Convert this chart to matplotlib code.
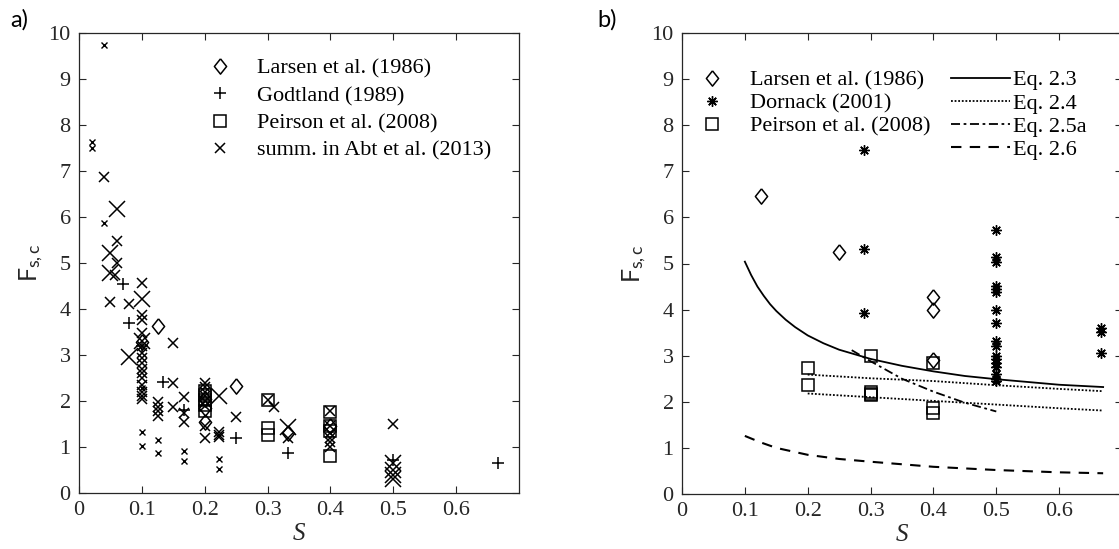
import numpy as np
import matplotlib
matplotlib.use("Agg")
import matplotlib.pyplot as plt

# ---- data (a) ----
larsen_a_s = [0.1, 0.125, 0.2, 0.2, 0.2, 0.25, 0.333, 0.4]
larsen_a_f = [3.28, 3.62, 2.05, 1.85, 1.55, 2.32, 1.3, 1.45]
godt_s = [0.07, 0.08, 0.1, 0.133, 0.167, 0.25, 0.333, 0.5, 0.667]
godt_f = [4.55, 3.7, 3.2, 2.42, 1.8, 1.2, 0.87, 0.72, 0.65]
peir_a_s = [0.2, 0.2, 0.2, 0.2, 0.2, 0.3, 0.3, 0.3, 0.4, 0.4, 0.4, 0.4]
peir_a_f = [2.22, 2.12, 2.02, 1.92, 1.78, 2.02, 1.41, 1.26, 1.77, 1.45, 1.35, 0.8]
abt_small_s = [0.02, 0.02, 0.04, 0.04, 0.1, 0.1, 0.1, 0.125, 0.125, 0.167, 0.167, 0.222, 0.222]
abt_small_f = [7.62, 7.5, 9.75, 5.87, 2.28, 1.32, 1.03, 1.15, 0.87, 0.92, 0.7, 0.73, 0.52]
abt_med_s = [0.04, 0.06, 0.06, 0.057, 0.05, 0.08, 0.1, 0.1, 0.1, 0.1, 0.1, 0.1, 0.1,
             0.1, 0.1, 0.1, 0.1, 0.1, 0.1, 0.1, 0.1, 0.125, 0.125, 0.125, 0.125,
             0.15, 0.15, 0.15, 0.167, 0.167, 0.167, 0.2, 0.2, 0.2, 0.2, 0.2, 0.2,
             0.2, 0.2, 0.222, 0.222, 0.222, 0.25, 0.3, 0.31, 0.333, 0.4, 0.4, 0.4,
             0.4, 0.4, 0.4, 0.5]
abt_med_f = [6.87, 5.47, 5.0, 4.74, 4.15, 4.1, 4.56, 3.87, 3.76, 3.47, 3.2, 3.05,
             2.93, 2.82, 2.7, 2.6, 2.5, 2.35, 2.2, 2.1, 2.05, 1.98, 1.88, 1.78, 1.67,
             3.26, 2.39, 1.88, 2.09, 1.75, 1.55, 2.4, 2.3, 2.2, 2.1, 2.0, 1.9, 1.45,
             1.2, 1.32, 1.27, 1.22, 1.66, 2.02, 1.86, 1.2, 1.78, 1.45, 1.3, 1.2,
             1.1, 1.0, 1.5]
abt_big_s = [0.06, 0.05, 0.05, 0.1, 0.1, 0.08, 0.222, 0.333, 0.5, 0.5, 0.5, 0.5]
abt_big_f = [6.17, 5.22, 4.78, 4.21, 3.3, 2.95, 2.11, 1.44, 0.65, 0.5, 0.4, 0.3]

# ---- data (b) ----
larsen_b_s = [0.125, 0.25, 0.4, 0.4, 0.4]
larsen_b_f = [6.47, 5.26, 4.27, 3.99, 2.9]
dorn_s = [0.29, 0.29, 0.29] + [0.5] * 17 + [0.667, 0.667, 0.667]
dorn_f = [7.46, 5.32, 3.92,
          5.72, 5.15, 5.03, 4.52, 4.45, 4.38, 4.0, 3.7, 3.32, 3.2, 3.0, 2.92,
          2.85, 2.75, 2.6, 2.5, 2.45,
          3.6, 3.52, 3.05]
peir_b_s = [0.2, 0.2, 0.3, 0.3, 0.3, 0.3, 0.4, 0.4, 0.4]
peir_b_f = [2.73, 2.37, 3.0, 2.22, 2.18, 2.15, 2.85, 1.86, 1.75]

eq23_s = [0.1, 0.11, 0.12, 0.13, 0.14, 0.15, 0.165, 0.18, 0.2, 0.225, 0.25, 0.3,
          0.35, 0.4, 0.45, 0.5, 0.55, 0.6, 0.67]
eq23_f = [5.04, 4.75, 4.5, 4.3, 4.12, 3.97, 3.78, 3.62, 3.44, 3.27, 3.13, 2.93,
          2.78, 2.66, 2.56, 2.49, 2.43, 2.37, 2.32]
eq24_s = [0.2, 0.3, 0.4, 0.5, 0.6, 0.67]
eq24_hi = [2.59, 2.51, 2.45, 2.36, 2.28, 2.23]
eq24_lo = [2.18, 2.10, 2.02, 1.94, 1.86, 1.81]
eq25_s = [0.27, 0.3, 0.35, 0.4, 0.45, 0.5]
eq25_f = [3.12, 2.88, 2.5, 2.22, 1.98, 1.79]
eq26_s = [0.1, 0.125, 0.15, 0.2, 0.25, 0.3, 0.4, 0.5, 0.6, 0.67]
eq26_f = [1.26, 1.12, 1.0, 0.85, 0.76, 0.7, 0.59, 0.52, 0.47, 0.45]

xticks = [0, 0.1, 0.2, 0.3, 0.4, 0.5, 0.6]
xticklabels = ['0', '0.1', '0.2', '0.3', '0.4', '0.5', '0.6']
yticks = list(range(0, 11))

plt.rcParams['mathtext.fontset'] = 'custom'
plt.rcParams['mathtext.rm'] = 'Lato'
plt.rcParams['mathtext.it'] = 'Lato:italic'

serif = 'Liberation Serif'
fs = 16
ink = '#262626'
# diamond a bit wider than matplotlib's thin 'd'
diamond = [(0, 1), (0.8, 0), (0, -1), (-0.8, 0), (0, 1)]

fig = plt.figure(figsize=(11.19, 5.49), dpi=100)
W, H = 1119, 549
ax1 = fig.add_axes([79 / W, 1 - 493 / H, 440 / W, 460 / H])
ax2 = fig.add_axes([682 / W, 1 - 494 / H, 440 / W, 461 / H])

mk = dict(linestyle='none', color='k', mfc='none')

# panel a
ax1.plot(larsen_a_s, larsen_a_f, marker=diamond, ms=11, mew=1.1, label='Larsen et al. (1986)', **mk)
ax1.plot(godt_s, godt_f, marker='+', ms=8, mew=1.1, label='Godtland (1989)', **mk)
ax1.plot(peir_a_s, peir_a_f, marker='s', ms=8.5, mew=1.1, label='Peirson et al. (2008)', **mk)
ax1.plot(abt_med_s, abt_med_f, marker='x', ms=6.5, mew=1.1, label='summ. in Abt et al. (2013)', **mk)
ax1.plot(abt_small_s, abt_small_f, marker='x', ms=4, mew=1.0, **mk)
ax1.plot(abt_big_s, abt_big_f, marker='x', ms=12, mew=1.1, **mk)

ax1.legend(loc='upper left', bbox_to_anchor=(0.30, 0.945), frameon=False,
           borderpad=0, borderaxespad=0, handlelength=0.8, handletextpad=1.27,
           labelspacing=0.3, prop={'family': serif, 'size': fs})

# panel b
h1, = ax2.plot(larsen_b_s, larsen_b_f, marker=diamond, ms=11, mew=1.1, label='Larsen et al. (1986)', **mk)
h2, = ax2.plot(dorn_s, dorn_f, marker=(8, 2, 0), ms=7.5, mew=1.0, label='Dornack (2001)', **mk)
h3, = ax2.plot(peir_b_s, peir_b_f, marker='s', ms=9, mew=1.1, label='Peirson et al. (2008)', **mk)
l1, = ax2.plot(eq23_s, eq23_f, color='k', lw=1.3, label='Eq. 2.3')
l2, = ax2.plot(eq24_s, eq24_hi, color='k', lw=1.3, linestyle=(0, (1, 1)), label='Eq. 2.4')
ax2.plot(eq24_s, eq24_lo, color='k', lw=1.3, linestyle=(0, (1, 1)))
l3, = ax2.plot(eq25_s, eq25_f, color='k', lw=1.3, linestyle=(0, (5, 2, 1.5, 2)), label='Eq. 2.5a')
l4, = ax2.plot(eq26_s, eq26_f, color='k', lw=1.5, linestyle=(0, (5, 4)), label='Eq. 2.6')

leg2a = ax2.legend(handles=[h1, h2, h3], loc='upper left', bbox_to_anchor=(0.048, 0.92),
                   frameon=False, borderpad=0, borderaxespad=0, handlelength=0.8,
                   handletextpad=1.3, labelspacing=0.12, prop={'family': serif, 'size': fs})
ax2.add_artist(leg2a)
ax2.legend(handles=[l1, l2, l3, l4], loc='upper left', bbox_to_anchor=(0.611, 0.92),
           frameon=False, borderpad=0, borderaxespad=0, handlelength=2.66,
           handletextpad=0.15, labelspacing=0.12, prop={'family': serif, 'size': fs})

for ax in (ax1, ax2):
    ax.set_xlim(0, 0.7)
    ax.set_ylim(0, 10)
    ax.set_xticks(xticks)
    ax.set_xticklabels(xticklabels)
    ax.set_yticks(yticks)
    ax.tick_params(direction='in', top=True, right=True, length=5, width=0.8,
                   color=ink, labelcolor=ink, labelsize=fs, pad=6)
    for lab in ax.get_xticklabels() + ax.get_yticklabels():
        lab.set_family(serif)
    for sp in ax.spines.values():
        sp.set_color(ink)
        sp.set_linewidth(0.9)
    ax.set_xlabel('S', family=serif, style='italic', fontsize=fs + 2, color=ink, labelpad=2)
    ax.set_ylabel(r'F$_{\mathrm{s,c}}$', family='Lato', fontsize=fs + 2, color=ink)
    ax.yaxis.set_label_coords(-0.077, 0.5)

fig.text(10 / W, 1 - 20 / H, 'a)', family='Lato', fontsize=17, va='center', ha='left')
fig.text(597 / W, 1 - 20 / H, 'b)', family='Lato', fontsize=17, va='center', ha='left')

fig.savefig('out.png', dpi=100)
